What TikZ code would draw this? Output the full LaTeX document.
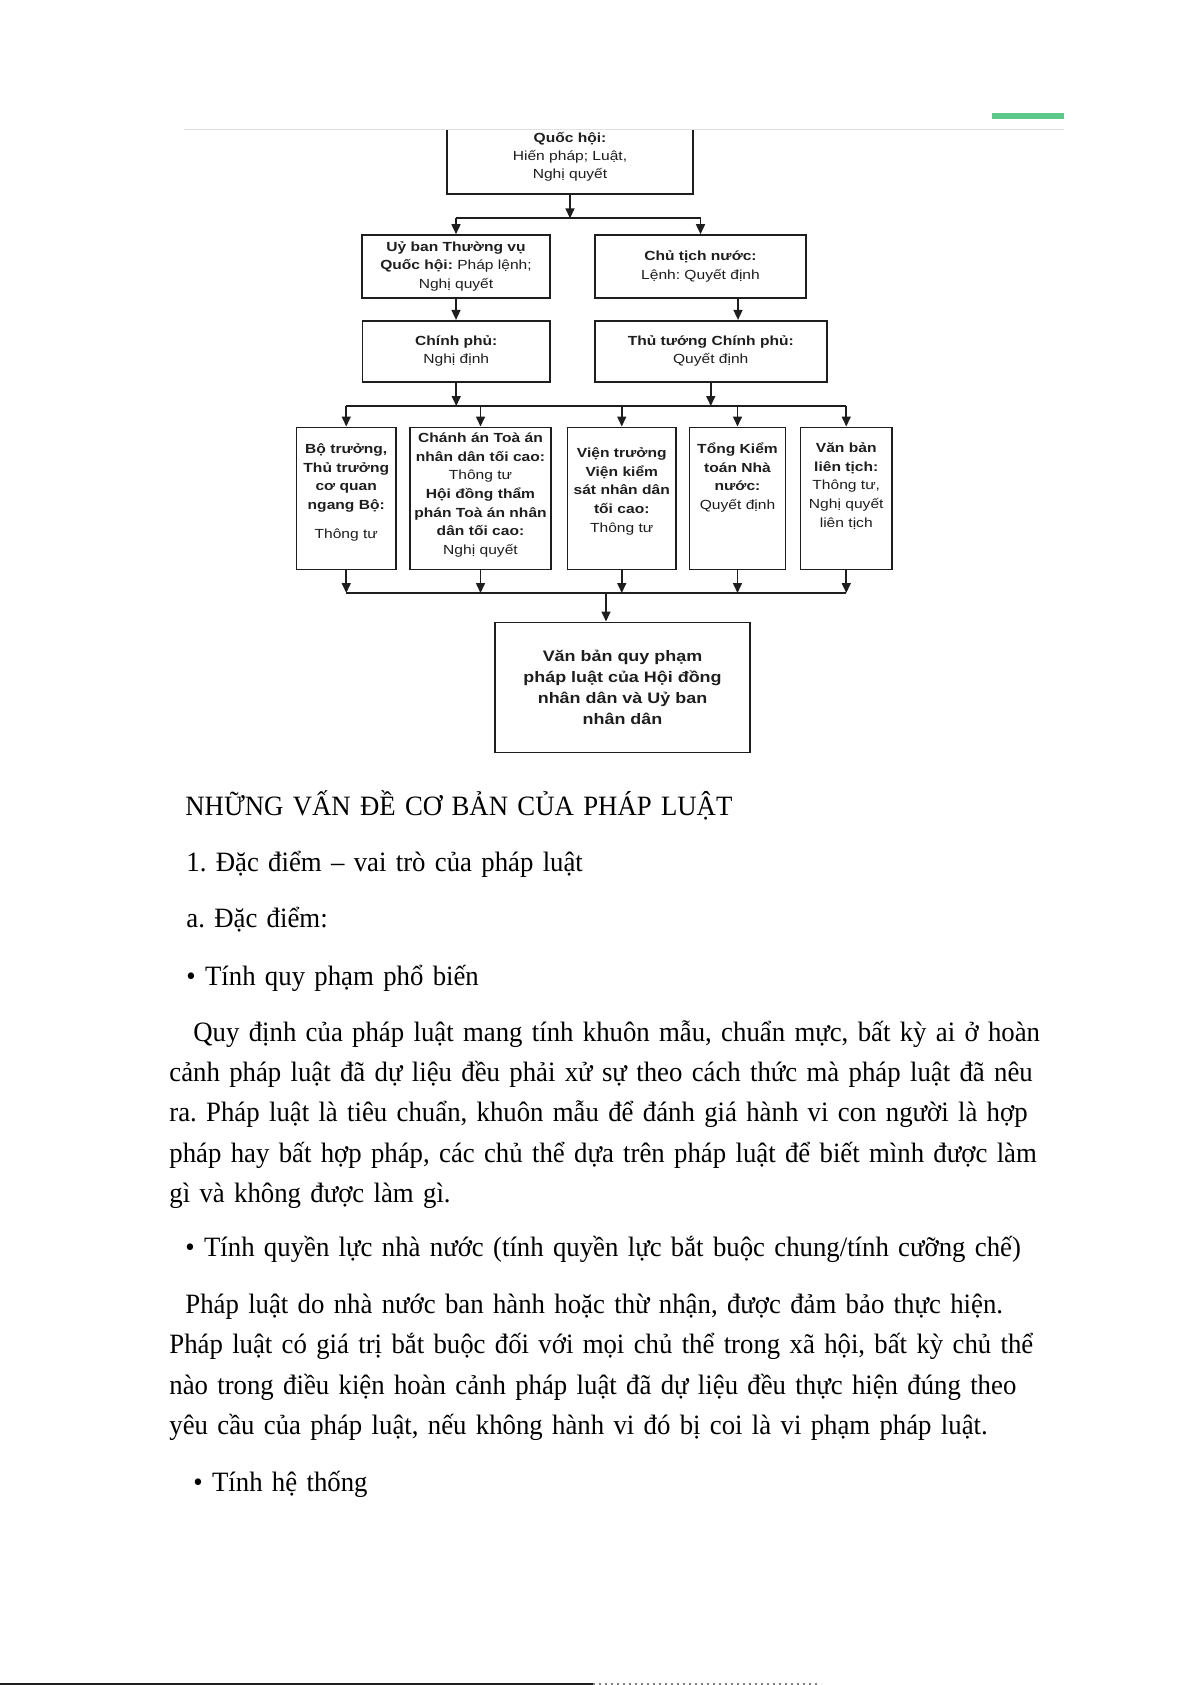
\documentclass[tikz,border=0pt]{standalone}
\usepackage{fontspec}
\setmainfont{Liberation Serif}[FakeStretch=0.956]
\newfontfamily\diagfont[FakeStretch=1.18]{Liberation Sans}
\usepackage{tikz}
\usetikzlibrary{arrows.meta}
\definecolor{rulegrey}{RGB}{226,226,226}
\definecolor{accent}{RGB}{92,200,140}
\definecolor{ink}{RGB}{30,30,30}
\frenchspacing

\begin{document}
\begin{tikzpicture}[
      x=0.5pt, y=-0.5pt,
      line/.style={draw=ink, line width=0.8pt},
      arr/.style={line, -{Triangle[length=5pt,width=4.5pt]}},
      box/.style={rectangle, draw=ink, line width=0.8pt, align=center, inner sep=0pt, text=ink,
        font=\diagfont\fontsize{6.6}{9.15}\selectfont},
      colbox/.style={box, anchor=north, font=\diagfont\fontsize{6.6}{9.3}\selectfont},
      body/.style={anchor=base west, inner sep=0pt, align=left, text width=480pt,
        font=\fontsize{14}{20.2}\selectfont},
    ]
    \useasboundingbox (0,0) rectangle (1191,1685);
    \fill[white] (0,0) rectangle (1191,1685);
    \fill[accent] (992,113) rectangle (1064,119.5);
    \coordinate (rl) at (184,130);
    \draw[rulegrey, line width=0.5pt] (rl) -- (1064,130);

    \node[box, draw=none, minimum width=122pt, minimum height=36.75pt] (qh) at (570,156.75)
      {\textbf{Quốc hội:}\\Hiến pháp; Luật,\\Nghị quyết};
    \draw[line] (qh.south west |- rl) -- (qh.south west) -- (qh.south east) -- (qh.south east |- rl);

    \node[box, minimum width=94pt, minimum height=31.35pt] (ub) at (456,266.35)
      {\textbf{Uỷ ban Thường vụ}\\\textbf{Quốc hội:} Pháp lệnh;\\Nghị quyết};
    \node[box, minimum width=105.5pt, minimum height=31.35pt] (ct) at (700.5,266.35)
      {\textbf{Chủ tịch nước:}\\Lệnh: Quyết định};
    \node[box, minimum width=93.75pt, minimum height=30.5pt] (cp) at (456.25,351.2)
      {\textbf{Chính phủ:}\\Nghị định};
    \node[box, minimum width=116pt, minimum height=30.5pt] (tt) at (710.75,351.2)
      {\textbf{Thủ tướng Chính phủ:}\\Quyết định};

    \node[colbox, text width=49.75pt, text height=13.2pt, text depth=57.8pt] (bt) at (346.25,426.5)
      {\textbf{Bộ trưởng,}\\\textbf{Thủ trưởng}\\\textbf{cơ quan}\\\textbf{ngang Bộ:}\\[5pt]Thông tư};
    \node[colbox, text width=70.5pt, text height=7.7pt, text depth=63.3pt] (ca) at (480.5,426.5)
      {\textbf{Chánh án Toà án}\\\textbf{nhân dân tối cao:}\\Thông tư\\\textbf{Hội đồng thẩm}\\\textbf{phán Toà án nhân}\\\textbf{dân tối cao:}\\Nghị quyết};
    \node[colbox, text width=54.25pt, text height=15.2pt, text depth=55.8pt] (vt) at (621.75,426.5)
      {\textbf{Viện trưởng}\\\textbf{Viện kiểm}\\\textbf{sát nhân dân}\\\textbf{tối cao:}\\Thông tư};
    \node[colbox, text width=48pt, text height=13.2pt, text depth=57.8pt] (tk) at (737.5,426.5)
      {\textbf{Tổng Kiểm}\\\textbf{toán Nhà}\\\textbf{nước:}\\Quyết định};
    \node[colbox, text width=45.75pt, text height=12.7pt, text depth=58.3pt] (vb) at (846.25,426.5)
      {\textbf{Văn bản}\\\textbf{liên tịch:}\\Thông tư,\\Nghị quyết\\liên tịch};

    \node[box, minimum width=127.5pt, minimum height=65pt,
      font=\diagfont\bfseries\fontsize{7.6}{10.4}\selectfont] (qp) at (622.5,687.3)
      {Văn bản quy phạm\\pháp luật của Hội đồng\\nhân dân và Uỷ ban\\nhân dân};

    \coordinate (b1) at (570,218.3);
    \coordinate (b2) at (0,406);
    \coordinate (b3) at (606,593);
    \draw[arr] (qh.south) -- (qh.south |- b1);
    \draw[line] (ub.north |- b1) -- (ct.north |- b1);
    \draw[arr] (ub.north |- b1) -- (ub.north);
    \draw[arr] (ct.north |- b1) -- (ct.north);
    \draw[arr] (ub.south) -- (ub.south |- cp.north);
    \draw[arr] ([xshift=18.75pt]ct.south) -- ([xshift=13.625pt]tt.north);
    \draw[arr] (cp.south) -- (cp.south |- b2);
    \draw[arr] (tt.south) -- (tt.south |- b2);
    \draw[line] (bt.north |- b2) -- (vb.north |- b2);
    \foreach \n in {bt,ca,vt,tk,vb} {
      \draw[arr] (\n.north |- b2) -- (\n.north);
      \draw[arr] (\n.south) -- (\n.south |- b3);
    }
    \draw[line] (bt.south |- b3) -- (vb.south |- b3);
    \draw[arr] (b3) -- (b3 |- qp.north);

    \node[body] (h0) at (185,815) {NHỮNG VẤN ĐỀ CƠ BẢN CỦA PHÁP LUẬT};
    \node[body] (h1) at (186,871) {1. Đặc điểm – vai trò của pháp luật};
    \node[body] (h2) at (186,927) {a. Đặc điểm:};
    \node[body] (t1) at (186,985) {• Tính quy phạm phổ biến};
    \node[body] (p1) at (169,1041)
      {\hspace*{12pt}Quy định của pháp luật mang tính khuôn mẫu, chuẩn mực, bất kỳ ai ở hoàn\\
       cảnh pháp luật đã dự liệu đều phải xử sự theo cách thức mà pháp luật đã nêu\\
       ra. Pháp luật là tiêu chuẩn, khuôn mẫu để đánh giá hành vi con người là hợp\\
       pháp hay bất hợp pháp, các chủ thể dựa trên pháp luật để biết mình được làm\\
       gì và không được làm gì.};
    \node[body] (t2) at (185,1256) {• Tính quyền lực nhà nước (tính quyền lực bắt buộc chung/tính cưỡng chế)};
    \node[body] (p2) at (169,1313.5)
      {\hspace*{8pt}Pháp luật do nhà nước ban hành hoặc thừ nhận, được đảm bảo thực hiện.\\
       Pháp luật có giá trị bắt buộc đối với mọi chủ thể trong xã hội, bất kỳ chủ thể\\
       nào trong điều kiện hoàn cảnh pháp luật đã dự liệu đều thực hiện đúng theo\\
       yêu cầu của pháp luật, nếu không hành vi đó bị coi là vi phạm pháp luật.};
    \node[body] (t3) at (193,1491) {• Tính hệ thống};

    \draw[ink, line width=1pt] (0,1684) -- (593,1684);
    \draw[gray, line width=1pt, dotted] (593,1684) -- (821,1684);
  \end{tikzpicture}
\end{document}
